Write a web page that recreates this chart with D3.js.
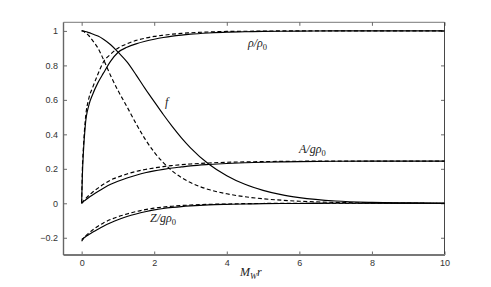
<!DOCTYPE html>
<html>
<head>
<meta charset="utf-8">
<script src="https://cdn.jsdelivr.net/npm/d3@7"></script>
<style>
  body { margin: 0; background: #fff; }
  .tick text { font-family: "Liberation Sans", Arial, sans-serif; font-size: 9px; fill: #333; }
  .lbl { font-family: "Liberation Serif", "DejaVu Serif", serif; font-style: italic; font-size: 12px; fill: #222; }
</style>
</head>
<body>
<div id="chart"></div>
<script>
// shared radial grid (M_W r)
var xGrid = [0, 0.02, 0.05, 0.1, 0.2, 0.3, 0.45, 0.6, 0.8, 1, 1.25, 1.5, 1.75, 2, 2.25, 2.5, 2.75, 3, 3.5, 4, 4.5, 5, 5.5, 6, 7, 8, 9, 10];

// solid = one model, dashed = the other
var rhoSolid  = [0, 0.16, 0.30, 0.45, 0.57, 0.63, 0.70, 0.755, 0.825, 0.875, 0.905, 0.925, 0.94, 0.952, 0.962, 0.97, 0.976, 0.981, 0.988, 0.993, 0.995, 0.997, 0.998, 0.999, 1, 1, 1, 1];
var rhoDashed = [0, 0.20, 0.33, 0.48, 0.61, 0.67, 0.75, 0.82, 0.865, 0.90, 0.925, 0.945, 0.958, 0.968, 0.975, 0.981, 0.986, 0.989, 0.994, 0.997, 0.998, 0.999, 1, 1, 1, 1, 1, 1];
var fSolid    = [1, 1, 0.999, 0.997, 0.99, 0.982, 0.97, 0.952, 0.92, 0.878, 0.82, 0.745, 0.665, 0.59, 0.515, 0.445, 0.38, 0.322, 0.228, 0.16, 0.11, 0.075, 0.05, 0.033, 0.013, 0.005, 0.002, 0];
var fDashed   = [1, 1, 0.998, 0.99, 0.972, 0.945, 0.9, 0.835, 0.74, 0.655, 0.56, 0.462, 0.372, 0.297, 0.236, 0.187, 0.149, 0.12, 0.08, 0.055, 0.038, 0.026, 0.018, 0.012, 0.005, 0.002, 0.001, 0];
var aSolid    = [0, 0.004, 0.01, 0.018, 0.034, 0.048, 0.068, 0.087, 0.11, 0.128, 0.147, 0.163, 0.177, 0.188, 0.197, 0.205, 0.211, 0.217, 0.225, 0.231, 0.235, 0.238, 0.24, 0.242, 0.244, 0.245, 0.245, 0.245];
var aDashed   = [0, 0.005, 0.013, 0.025, 0.046, 0.064, 0.088, 0.11, 0.135, 0.152, 0.17, 0.185, 0.196, 0.205, 0.213, 0.219, 0.224, 0.228, 0.234, 0.238, 0.24, 0.242, 0.243, 0.244, 0.245, 0.245, 0.245, 0.245];
var zSolid    = [-0.21, -0.207, -0.202, -0.195, -0.181, -0.168, -0.15, -0.133, -0.113, -0.095, -0.077, -0.062, -0.049, -0.038, -0.03, -0.024, -0.019, -0.015, -0.009, -0.006, -0.004, -0.002, -0.0015, -0.001, 0, 0, 0, 0];
var zDashed   = [-0.22, -0.214, -0.205, -0.192, -0.172, -0.155, -0.133, -0.114, -0.094, -0.078, -0.062, -0.048, -0.037, -0.028, -0.022, -0.017, -0.013, -0.01, -0.006, -0.004, -0.002, -0.001, 0, 0, 0, 0, 0, 0];

var xTicks = [0, 2, 4, 6, 8, 10];
var yTicks = [-0.2, 0, 0.2, 0.4, 0.6, 0.8, 1];

var svgWidth = 491;
var svgHeight = 287;
var plot = {left: 63.5, right: 444.5, top: 22.3, bottom: 255};

var svg = d3.select("#chart")
    .append("svg")
    .attr("width", svgWidth)
    .attr("height", svgHeight);

var xScale = d3.scaleLinear().domain([-0.5, 10]).range([plot.left, plot.right]);
var yScale = d3.scaleLinear().domain([-0.3, 1.05]).range([plot.bottom, plot.top]);

// axes, matlab style: ticks pointing inwards
var bottomAxis = d3.axisBottom(xScale).tickValues(xTicks).tickSizeInner(-3.5).tickSizeOuter(0).tickPadding(5).tickFormat(d3.format("d"));
var topAxis = d3.axisTop(xScale).tickValues(xTicks).tickSizeInner(-3.5).tickSizeOuter(0).tickFormat("");
var leftAxis = d3.axisLeft(yScale).tickValues(yTicks).tickSizeInner(-3.5).tickSizeOuter(0).tickPadding(5.5).tickFormat(function(d) { return d === 0 ? "0" : d3.format("")(+d.toFixed(1)); });
var rightAxis = d3.axisRight(yScale).tickValues(yTicks).tickSizeInner(-3.5).tickSizeOuter(0).tickFormat("");

function styleAxis(g) {
    g.select(".domain").remove();
    g.selectAll(".tick line").attr("stroke", "#444").attr("stroke-width", 0.8);
}

svg.append("g").attr("transform", `translate(0,${plot.bottom})`).call(bottomAxis).call(styleAxis);
svg.append("g").attr("transform", `translate(0,${plot.top})`).call(topAxis).call(styleAxis);
svg.append("g").attr("transform", `translate(${plot.left},0)`).call(leftAxis).call(styleAxis);
svg.append("g").attr("transform", `translate(${plot.right},0)`).call(rightAxis).call(styleAxis);

// box
svg.append("line").attr("x1", plot.left).attr("x2", plot.right).attr("y1", plot.top).attr("y2", plot.top)
    .attr("stroke", "#555").attr("stroke-width", 0.8);
svg.append("line").attr("x1", plot.right).attr("x2", plot.right).attr("y1", plot.top).attr("y2", plot.bottom)
    .attr("stroke", "#333").attr("stroke-width", 0.9);
svg.append("line").attr("x1", plot.left).attr("x2", plot.right + 0.5).attr("y1", plot.bottom).attr("y2", plot.bottom)
    .attr("stroke", "#777").attr("stroke-width", 1.8);
svg.append("line").attr("x1", plot.left).attr("x2", plot.left).attr("y1", plot.top).attr("y2", plot.bottom)
    .attr("stroke", "#666").attr("stroke-width", 1.4);

// curves
var series = [
    {v: fSolid, dash: null},
    {v: fDashed, dash: "4,2.5"},
    {v: rhoSolid, dash: null},
    {v: rhoDashed, dash: "4,2.5"},
    {v: aSolid, dash: null},
    {v: aDashed, dash: "4,2.5"},
    {v: zSolid, dash: null},
    {v: zDashed, dash: "4,2.5"}
];

var line = d3.line()
    .x(function(d) { return xScale(d[0]); })
    .y(function(d) { return yScale(d[1]); })
    .curve(d3.curveMonotoneX);

series.forEach(function(s) {
    svg.append("path")
        .datum(xGrid.map(function(x, i) { return [x, s.v[i]]; }))
        .attr("fill", "none")
        .attr("stroke", "#000")
        .attr("stroke-width", 1.15)
        .attr("stroke-dasharray", s.dash)
        .attr("d", line);
});

// curve labels
function label(x, y, parts) {
    var t = svg.append("text").attr("class", "lbl").attr("x", x).attr("y", y);
    parts.forEach(function(p) {
        var ts = t.append("tspan").text(p.t);
        if (p.sub) ts.attr("font-size", "8.5px").attr("dy", "2.5").style("font-style", p.up ? "normal" : "italic");
        if (p.back) ts.attr("dy", "-2.5");
    });
}

label(248, 47, [{t: "ρ/ρ"}, {t: "0", sub: true, up: true}]);
label(165, 106, [{t: "f"}]);
label(299, 153, [{t: "A/gρ"}, {t: "0", sub: true, up: true}]);
label(150, 222, [{t: "Z/gρ"}, {t: "0", sub: true, up: true}]);
label(240, 276, [{t: "M"}, {t: "W", sub: true}, {t: "r", back: true}]);
</script>
</body>
</html>
